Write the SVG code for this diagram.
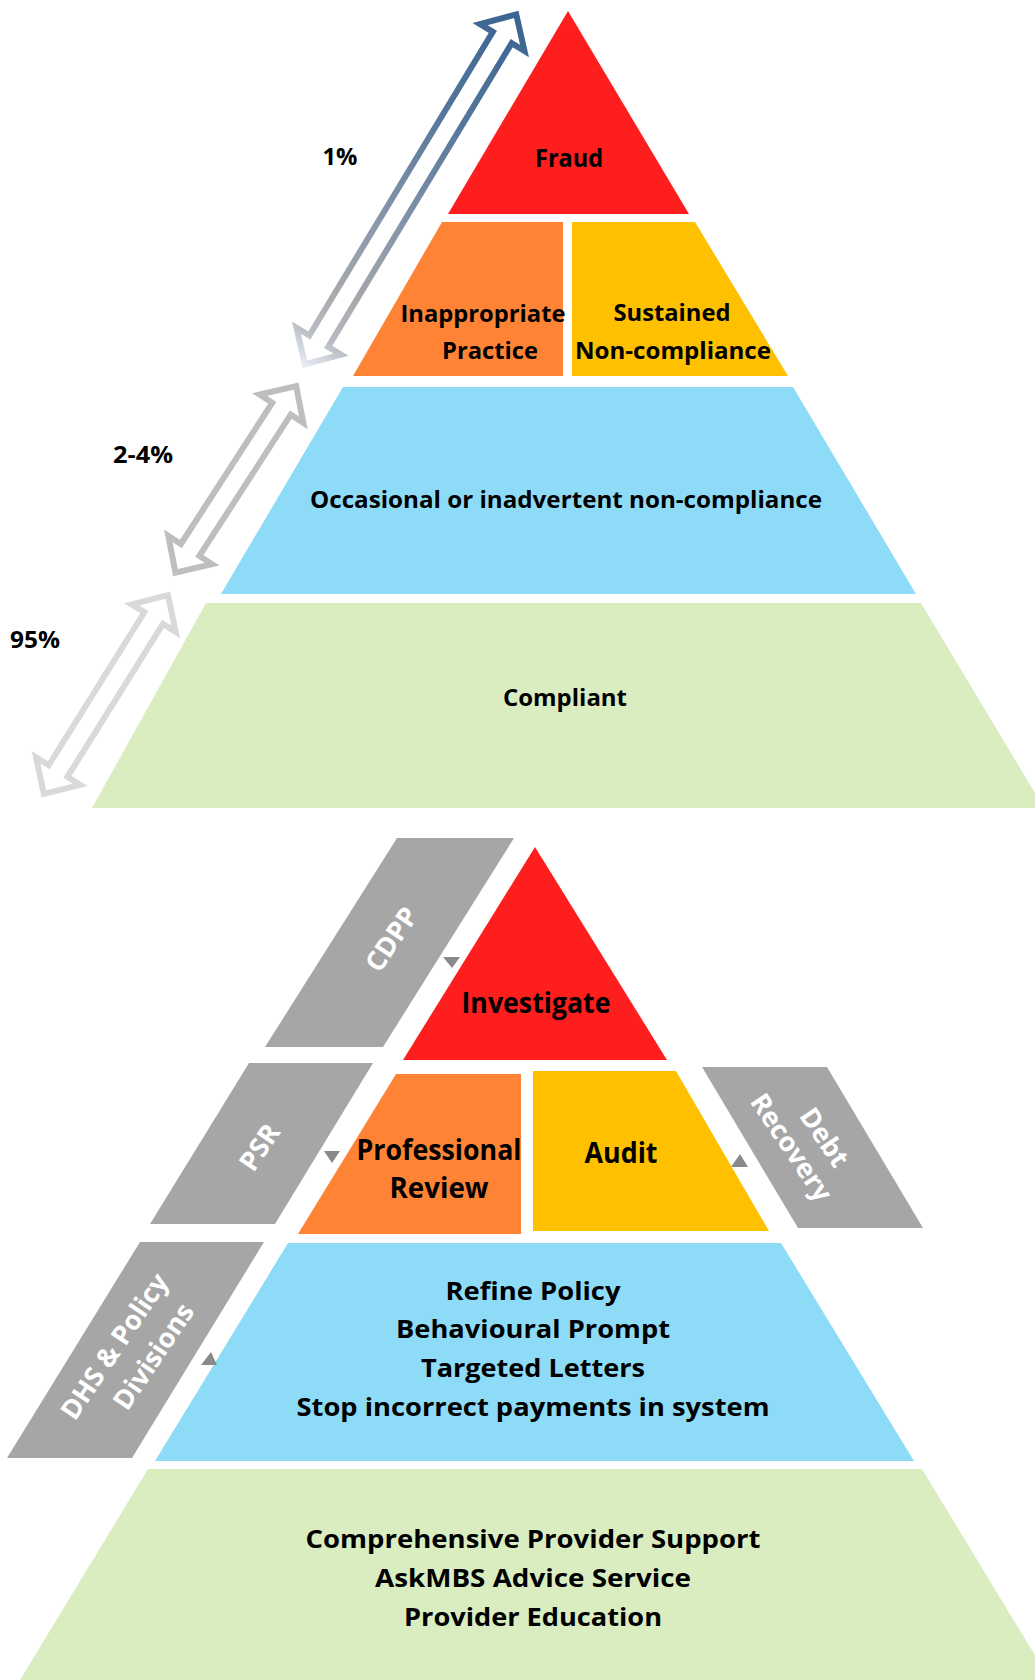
<svg xmlns="http://www.w3.org/2000/svg" width="1035" height="1680" viewBox="0 0 1035 1680">
  <defs>
    <style>
      .t { font-family: "Open Sans", "Liberation Sans", sans-serif; font-weight: 700; fill: #000; text-anchor: middle; }
      .pct { font-family: "Open Sans", "Liberation Sans", sans-serif; font-weight: 700; fill: #000; text-anchor: middle; font-size: 24px; }
      .side { font-family: "Open Sans", "Liberation Sans", sans-serif; font-weight: 700; fill: #fff; text-anchor: middle; font-size: 27px; }
      .red { fill: #FF1E1E; }
      .orange { fill: #FE8334; }
      .yellow { fill: #FFC000; }
      .blue { fill: #8DDBF7; }
      .green { fill: #D9EDC1; }
      .grey { fill: #A6A6A6; }
      .mark { fill: #8A8A8A; }
      .dbl { fill: #fff; stroke-width: 6; stroke-linejoin: miter; stroke-miterlimit: 10; }
    </style>
    <linearGradient id="gradTop" gradientUnits="userSpaceOnUse" x1="413" y1="0" x2="3" y2="0">
      <stop offset="0" stop-color="#3A6491"/>
      <stop offset="0.3" stop-color="#55769C"/>
      <stop offset="0.6" stop-color="#8796AA"/>
      <stop offset="0.8" stop-color="#A6A8AB"/>
      <stop offset="0.92" stop-color="#B8BCC2"/>
      <stop offset="1" stop-color="#E6ECF4"/>
    </linearGradient>
  </defs>

  <!-- Upper pyramid: compliance levels -->
  <g id="fraud">
    <polygon class="red" points="568,11 689,214 448,214"/>
    <text class="t" x="569" y="167" font-size="25" textLength="68" lengthAdjust="spacingAndGlyphs">Fraud</text>
  </g>
  <g id="inappropriate-practice">
    <polygon class="orange" points="442,222 563,222 563,376 353,376"/>
    <text class="t" x="483" y="322" font-size="24" textLength="165" lengthAdjust="spacingAndGlyphs">Inappropriate</text>
    <text class="t" x="490" y="359" font-size="24" textLength="96" lengthAdjust="spacingAndGlyphs">Practice</text>
  </g>
  <g id="sustained-non-compliance">
    <polygon class="yellow" points="572,222 695,222 788,376 572,376"/>
    <text class="t" x="672" y="321" font-size="24" textLength="117" lengthAdjust="spacingAndGlyphs">Sustained</text>
    <text class="t" x="673" y="359" font-size="24" textLength="196" lengthAdjust="spacingAndGlyphs">Non-compliance</text>
  </g>
  <g id="occasional-non-compliance">
    <polygon class="blue" points="343,387 793,387 916,594 221,594"/>
    <text class="t" x="566" y="508" font-size="24" textLength="512" lengthAdjust="spacingAndGlyphs">Occasional or inadvertent non-compliance</text>
  </g>
  <g id="compliant">
    <polygon class="green" points="206,603 921,603 1044,808 92,808"/>
    <text class="t" x="565" y="706" font-size="24" textLength="124" lengthAdjust="spacingAndGlyphs">Compliant</text>
  </g>

  <!-- Percentage labels -->
  <g id="pct-1">
    <text class="pct" x="340" y="165" textLength="35" lengthAdjust="spacingAndGlyphs">1%</text>
  </g>
  <g id="pct-2-4">
    <text class="pct" x="143" y="463" textLength="60" lengthAdjust="spacingAndGlyphs">2-4%</text>
  </g>
  <g id="pct-95">
    <text class="pct" x="35" y="648" textLength="50" lengthAdjust="spacingAndGlyphs">95%</text>
  </g>

  <!-- Lower pyramid: responses -->
  <g id="investigate">
    <polygon class="red" points="535,847 667,1060 403,1060"/>
    <text class="t" x="536" y="1013" font-size="28" textLength="149" lengthAdjust="spacingAndGlyphs">Investigate</text>
  </g>
  <g id="professional-review">
    <polygon class="orange" points="396,1074 521,1074 521,1234 298,1234"/>
    <text class="t" x="439" y="1160" font-size="28" textLength="165" lengthAdjust="spacingAndGlyphs">Professional</text>
    <text class="t" x="439" y="1198" font-size="28" textLength="99" lengthAdjust="spacingAndGlyphs">Review</text>
  </g>
  <g id="audit">
    <polygon class="yellow" points="533,1071 676,1071 769,1231 533,1231"/>
    <text class="t" x="621" y="1163" font-size="28" textLength="73" lengthAdjust="spacingAndGlyphs">Audit</text>
  </g>
  <g id="refine-policy">
    <polygon class="blue" points="288,1243 781,1243 914,1461 155,1461"/>
    <text class="t" x="533" y="1300" font-size="25" textLength="175" lengthAdjust="spacingAndGlyphs">Refine Policy</text>
    <text class="t" x="533" y="1338" font-size="25" textLength="274" lengthAdjust="spacingAndGlyphs">Behavioural Prompt</text>
    <text class="t" x="533" y="1377" font-size="25" textLength="224" lengthAdjust="spacingAndGlyphs">Targeted Letters</text>
    <text class="t" x="533" y="1416" font-size="25" textLength="473" lengthAdjust="spacingAndGlyphs">Stop incorrect payments in system</text>
  </g>
  <g id="provider-support">
    <polygon class="green" points="148,1469 922,1469 1050,1680 20,1680"/>
    <text class="t" x="533" y="1548" font-size="25" textLength="455" lengthAdjust="spacingAndGlyphs">Comprehensive Provider Support</text>
    <text class="t" x="533" y="1587" font-size="25" textLength="316" lengthAdjust="spacingAndGlyphs">AskMBS Advice Service</text>
    <text class="t" x="533" y="1626" font-size="25" textLength="258" lengthAdjust="spacingAndGlyphs">Provider Education</text>
  </g>

  <!-- Agency bands beside the lower pyramid -->
  <g id="cdpp">
    <polygon class="grey" points="397,838 514,838 383,1047 265,1047"/>
    <text class="side" transform="translate(391 939) rotate(-56)" x="0" y="10">CDPP</text>
  </g>
  <g id="psr">
    <polygon class="grey" points="249,1063 373,1063 275,1224 150,1224"/>
    <text class="side" transform="translate(259 1147) rotate(-56)" x="0" y="10">PSR</text>
  </g>
  <g id="debt-recovery">
    <polygon class="grey" points="702,1067 827,1067 923,1228 798,1228"/>
    <text class="side" transform="translate(825 1137) rotate(56)" x="0" y="10">Debt</text>
    <text class="side" transform="translate(792 1147) rotate(56)" x="0" y="10">Recovery</text>
  </g>
  <g id="dhs-policy-divisions">
    <polygon class="grey" points="140,1242 264,1242 132,1458 7,1458"/>
    <text class="side" transform="translate(114 1346) rotate(-56)" x="0" y="10">DHS &amp; Policy</text>
    <text class="side" transform="translate(153 1356) rotate(-56)" x="0" y="10">Divisions</text>
  </g>

  <!-- Connectors: double-headed range arrows and small pointers -->
  <g id="connectors">
    <polygon class="dbl" stroke="url(#gradTop)" transform="translate(302.7 367.7) rotate(-58.85)"
      points="4,0 31,-26 31,-11 385.8,-11 385.8,-26 412.8,0 385.8,26 385.8,11 31,11 31,26"/>
    <polygon class="dbl" stroke="#BEBEBE" transform="translate(173.3 576) rotate(-57.1)"
      points="4,0 31,-26 31,-11 199.2,-11 199.2,-26 226.2,0 199.2,26 199.2,11 31,11 31,26"/>
    <polygon class="dbl" stroke="#D9D9D9" transform="translate(41.7 797.3) rotate(-58)"
      points="4,0 31,-26 31,-11 211.3,-11 211.3,-26 238.3,0 211.3,26 211.3,11 31,11 31,26"/>
    <polygon class="mark" points="443,957 460,957 452,968"/>
    <polygon class="mark" points="324,1151 340,1151 332,1163"/>
    <polygon class="mark" points="740,1154 731,1167 748,1167"/>
    <polygon class="mark" points="211,1352 201,1365 217,1365"/>
  </g>
</svg>
